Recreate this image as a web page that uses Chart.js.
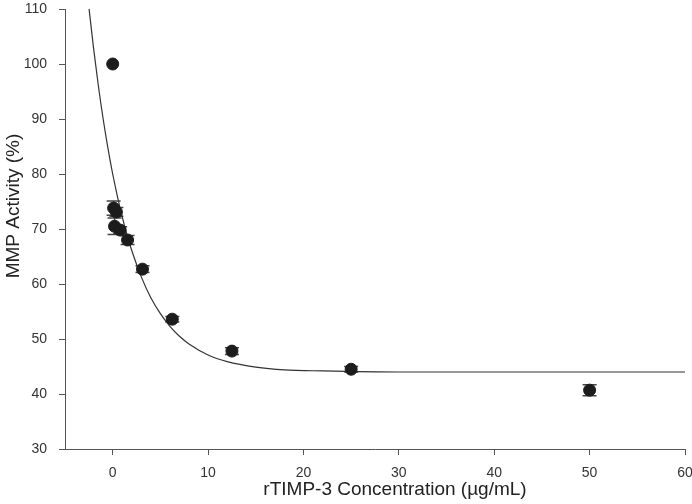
<!DOCTYPE html>
<html>
<head>
<meta charset="utf-8">
<script src="https://cdn.jsdelivr.net/npm/chart.js@4/dist/chart.umd.min.js"></script>
<style>
  html, body { margin: 0; padding: 0; background: #fff; }
  #wrap { width: 692px; height: 504px; }
</style>
</head>
<body>
<div id="wrap"><canvas id="chart" width="692" height="504"></canvas></div>
<script>
// measured points (rTIMP-3 dilution series)
const concentrations = [0, 0.098, 0.195, 0.39, 0.78, 1.56, 3.125, 6.25, 12.5, 25, 50];
const activity = [100, 73.8, 70.5, 73.1, 69.8, 68.0, 62.7, 53.6, 47.8, 44.5, 40.7];
const activityErr = [0, 1.3, 1.5, 0.8, 0.6, 0.8, 0.6, 0.5, 0.6, 0.5, 1.0];

// fitted curve
const fitX = [-2.5, -2, -1.5, -1, -0.5, 0, 0.5, 1, 1.5, 2, 3, 4, 5, 6, 7, 8, 10, 12, 15, 18, 22, 30, 45, 60];
const fitY = [110.4, 102.8, 96.0, 90.0, 84.7, 80.0, 75.9, 72.2, 68.9, 66.1, 61.3, 57.5, 54.6, 52.3, 50.5, 49.1, 47.1, 45.9, 44.9, 44.4, 44.2, 44.0, 44.0, 44.0];

// tick labels
const xTicks = [0, 10, 20, 30, 40, 50, 60];
const yTicks = [30, 40, 50, 60, 70, 80, 90, 100, 110];

const xTitle = 'rTIMP-3 Concentration (µg/mL)';
const yTitle = 'MMP Activity (%)';

const axisColor = '#555';
const tickFont = { family: 'Liberation Sans, Arial, sans-serif', size: 14 };

// error bars drawn behind the markers
const errorBars = {
    id: 'errorBars',
    beforeDatasetsDraw(chart) {
        const ctx = chart.ctx;
        const xs = chart.scales.x, ys = chart.scales.y;
        ctx.save();
        ctx.strokeStyle = '#444';
        ctx.lineWidth = 1.5;
        concentrations.forEach((c, i) => {
            const e = activityErr[i];
            if (!e) return;
            const px = xs.getPixelForValue(c);
            const top = ys.getPixelForValue(activity[i] + e);
            const bot = ys.getPixelForValue(activity[i] - e);
            ctx.beginPath();
            ctx.moveTo(px, top); ctx.lineTo(px, bot);
            ctx.moveTo(px - 7, top); ctx.lineTo(px + 7, top);
            ctx.moveTo(px - 7, bot); ctx.lineTo(px + 7, bot);
            ctx.stroke();
        });
        ctx.restore();
    }
};

// axis titles, placed like the original (not centred on the axes)
const axisTitles = {
    id: 'axisTitles',
    afterDraw(chart) {
        const ctx = chart.ctx;
        ctx.save();
        ctx.fillStyle = '#222';
        ctx.font = '19px "Liberation Sans", Arial, sans-serif';
        ctx.textAlign = 'center';
        ctx.textBaseline = 'middle';
        ctx.fillText(xTitle, 395, 490);
        ctx.translate(14, 206);
        ctx.rotate(-Math.PI / 2);
        ctx.fillText(yTitle, 0, 0);
        ctx.restore();
    }
};

const ctx = document.getElementById('chart').getContext('2d');
new Chart(ctx, {
    data: {
        datasets: [{
            type: 'scatter',
            label: 'MMP activity',
            data: concentrations.map((c, i) => ({ x: c, y: activity[i] })),
            backgroundColor: '#1c1c1c',
            borderColor: '#1c1c1c',
            pointRadius: 6,
            pointHoverRadius: 6,
            order: 1
        }, {
            type: 'line',
            label: 'Fit',
            data: fitX.map((x, i) => ({ x: x, y: fitY[i] })),
            borderColor: '#333',
            borderWidth: 1.2,
            pointRadius: 0,
            fill: false,
            cubicInterpolationMode: 'monotone',
            order: 2
        }]
    },
    options: {
        responsive: false,
        animation: false,
        layout: { padding: { top: 9, right: 6, left: 0, bottom: 0 } },
        plugins: {
            legend: { display: false },
            tooltip: { enabled: false }
        },
        scales: {
            x: {
                type: 'linear',
                min: -5,
                max: 60,
                border: { color: axisColor, width: 1 },
                grid: { drawOnChartArea: false, color: axisColor, tickLength: 6 },
                ticks: { color: '#333', font: tickFont, padding: 10, maxRotation: 0 },
                afterBuildTicks(scale) {
                    scale.ticks = xTicks.map(v => ({ value: v }));
                },
                afterFit(scale) {
                    scale.height = 55;
                    scale.paddingLeft = 0;
                    scale.paddingRight = 0;
                }
            },
            y: {
                type: 'linear',
                min: 30,
                max: 110,
                border: { color: axisColor, width: 1 },
                grid: { drawOnChartArea: false, color: axisColor, tickLength: 6 },
                ticks: { color: '#333', font: tickFont, padding: 12 },
                afterBuildTicks(scale) {
                    scale.ticks = yTicks.map(v => ({ value: v }));
                },
                afterFit(scale) {
                    scale.width = 65;
                    scale.paddingTop = 0;
                    scale.paddingBottom = 0;
                }
            }
        }
    },
    plugins: [errorBars, axisTitles]
});
</script>
</body>
</html>
